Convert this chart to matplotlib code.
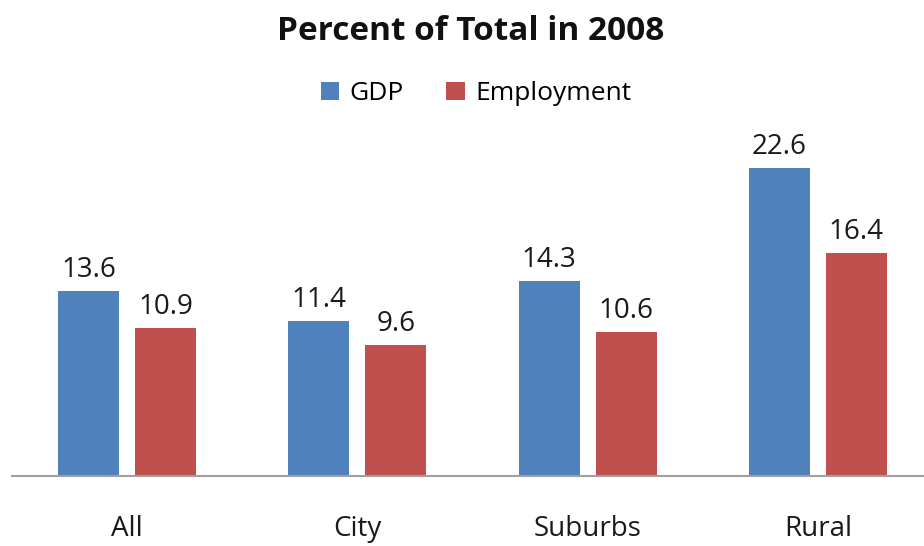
import matplotlib.pyplot as plt
import numpy as np

categories = ["All", "City", "Suburbs", "Rural"]
gdp = [13.6, 11.4, 14.3, 22.6]
employment = [10.9, 9.6, 10.6, 16.4]

plt.rcParams["font.family"] = ["Open Sans", "DejaVu Sans"]

fig = plt.figure(figsize=(9.24, 5.46), dpi=100)
ax = fig.add_axes([12 / 924, 70 / 546, 921 / 924, 346 / 546])

x = np.arange(len(categories))
w = 0.265
b1 = ax.bar(x - 0.167, gdp, w, color="#4F81BD", label="GDP")
b2 = ax.bar(x + 0.167, employment, w, color="#C0504D", label="Employment")

for bars, vals in ((b1, gdp), (b2, employment)):
    for rect, v in zip(bars, vals):
        ax.annotate(f"{v:.1f}", (rect.get_x() + rect.get_width() / 2, v),
                    xytext=(0, 5), textcoords="offset points",
                    ha="center", va="bottom", fontsize=20, color="#1a1a1a")

ax.set_xlim(-0.5, 3.5)
ax.set_ylim(0, 25.4)
ax.set_yticks([])
ax.set_xticks(x)
ax.set_xticklabels(categories, fontsize=20, color="#1a1a1a")
ax.tick_params(axis="x", length=0, pad=28)
for s in ("top", "right", "left"):
    ax.spines[s].set_visible(False)
ax.spines["bottom"].set_color("#a0a0a0")
ax.spines["bottom"].set_linewidth(1.5)

fig.text(0.509, 0.943, "Percent of Total in 2008", ha="center", va="center",
         fontsize=24, fontweight="bold", color="#111111")
fig.legend(loc="center", bbox_to_anchor=(0.515, 0.828), ncol=2, frameon=False,
           fontsize=19, handlelength=0.7, handleheight=0.7, handletextpad=0.4,
           columnspacing=1.6)

fig.savefig("out.png", dpi=100)
